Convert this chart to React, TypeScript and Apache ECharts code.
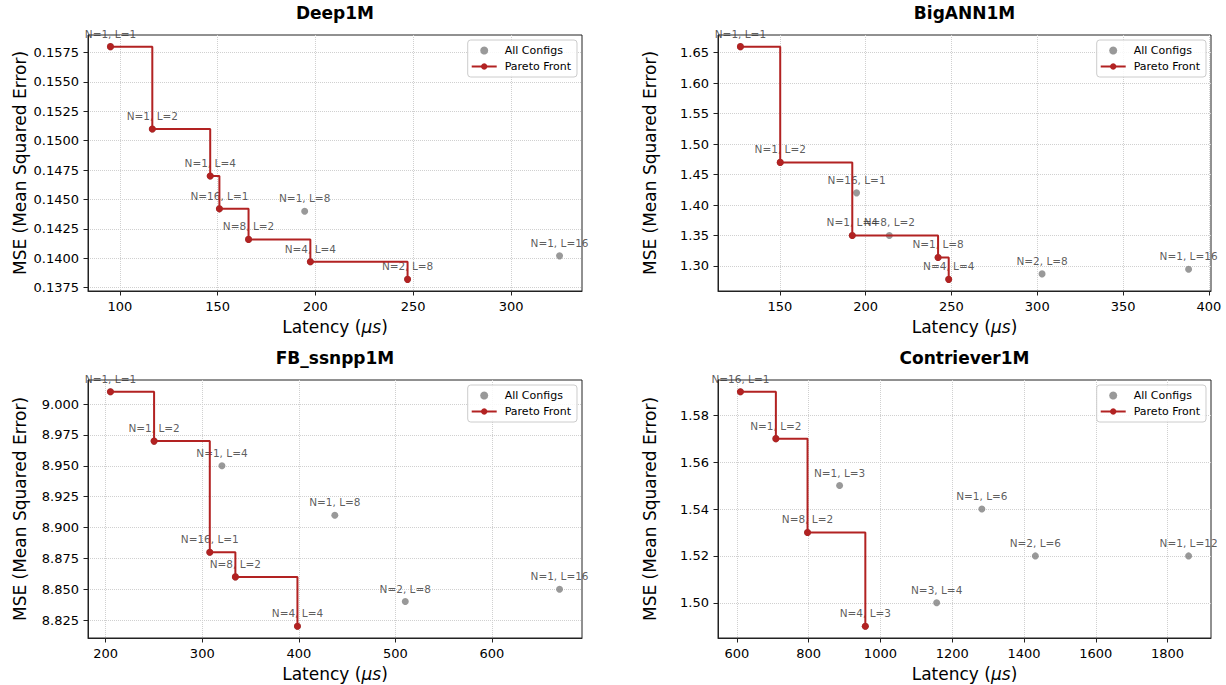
import React, { useEffect, useRef } from 'react';
import * as echarts from 'echarts';

const FONT = 'DejaVu Sans';

// ---------- Deep1M ----------
const deepLabels = ['N=1, L=1', 'N=1, L=2', 'N=1, L=4', 'N=16, L=1', 'N=8, L=2', 'N=1, L=8', 'N=4, L=4', 'N=2, L=8', 'N=1, L=16'];
const deepLatency = [95.2, 116.6, 146.2, 150.9, 165.8, 194.5, 197.4, 247.1, 324.8];
const deepMse = [0.158, 0.151, 0.147, 0.1442, 0.1416, 0.144, 0.1397, 0.1382, 0.1402];
const deepPareto = ['N=1, L=1', 'N=1, L=2', 'N=1, L=4', 'N=16, L=1', 'N=8, L=2', 'N=4, L=4', 'N=2, L=8'];
const deepXTicks = [100, 150, 200, 250, 300];
const deepYTicks = [0.1375, 0.14, 0.1425, 0.145, 0.1475, 0.15, 0.1525, 0.155, 0.1575];

// ---------- BigANN1M ----------
const bigannLabels = ['N=1, L=1', 'N=1, L=2', 'N=1, L=4', 'N=16, L=1', 'N=8, L=2', 'N=1, L=8', 'N=4, L=4', 'N=2, L=8', 'N=1, L=16'];
const bigannLatency = [127.0, 150.2, 192.2, 194.7, 213.8, 242.2, 248.4, 302.8, 388.2];
const bigannMse = [1.66, 1.47, 1.35, 1.42, 1.35, 1.314, 1.278, 1.287, 1.2946];
const bigannPareto = ['N=1, L=1', 'N=1, L=2', 'N=1, L=4', 'N=1, L=8', 'N=4, L=4'];
const bigannXTicks = [150, 200, 250, 300, 350, 400];
const bigannYTicks = [1.3, 1.35, 1.4, 1.45, 1.5, 1.55, 1.6, 1.65];

// ---------- FB_ssnpp1M ----------
const fbLabels = ['N=1, L=1', 'N=1, L=2', 'N=16, L=1', 'N=1, L=4', 'N=8, L=2', 'N=4, L=4', 'N=1, L=8', 'N=2, L=8', 'N=1, L=16'];
const fbLatency = [204.9, 250.1, 307.8, 320.4, 334.3, 398.6, 437.3, 510.3, 670.1];
const fbMse = [9.01, 8.97, 8.88, 8.95, 8.86, 8.82, 8.91, 8.84, 8.85];
const fbPareto = ['N=1, L=1', 'N=1, L=2', 'N=16, L=1', 'N=8, L=2', 'N=4, L=4'];
const fbXTicks = [200, 300, 400, 500, 600];
const fbYTicks = [8.825, 8.85, 8.875, 8.9, 8.925, 8.95, 8.975, 9.0];

// ---------- Contriever1M ----------
const contLabels = ['N=16, L=1', 'N=1, L=2', 'N=8, L=2', 'N=1, L=3', 'N=4, L=3', 'N=3, L=4', 'N=1, L=6', 'N=2, L=6', 'N=1, L=12'];
const contLatency = [610, 708.8, 797, 886.3, 958, 1156.7, 1282.6, 1431.6, 1858.5];
const contMse = [1.59, 1.57, 1.53, 1.55, 1.49, 1.5, 1.54, 1.52, 1.52];
const contPareto = ['N=16, L=1', 'N=1, L=2', 'N=8, L=2', 'N=4, L=3'];
const contXTicks = [600, 800, 1000, 1200, 1400, 1600, 1800];
const contYTicks = [1.5, 1.52, 1.54, 1.56, 1.58];

const panels = [
  { title: 'Deep1M', labels: deepLabels, lat: deepLatency, mse: deepMse, pareto: deepPareto, xt: deepXTicks, yt: deepYTicks, yDec: 4, left: 88, top: 35, width: 494, height: 256 },
  { title: 'BigANN1M', labels: bigannLabels, lat: bigannLatency, mse: bigannMse, pareto: bigannPareto, xt: bigannXTicks, yt: bigannYTicks, yDec: 2, left: 718, top: 35, width: 493, height: 256 },
  { title: 'FB_ssnpp1M', labels: fbLabels, lat: fbLatency, mse: fbMse, pareto: fbPareto, xt: fbXTicks, yt: fbYTicks, yDec: 3, left: 88, top: 380, width: 494, height: 258 },
  { title: 'Contriever1M', labels: contLabels, lat: contLatency, mse: contMse, pareto: contPareto, xt: contXTicks, yt: contYTicks, yDec: 2, left: 718, top: 380, width: 493, height: 258 },
];

function padExtent(values: number[]) {
  const lo = Math.min(...values);
  const hi = Math.max(...values);
  const m = (hi - lo) * 0.05;
  return [lo - m, hi + m];
}

const RED = '#b22222';
const GRAY = '#808080';
const FRAME = '#222222';

export default function App() {
  const ref = useRef<HTMLDivElement>(null);

  useEffect(() => {
    if (!ref.current) return;
    const chart = echarts.init(ref.current, undefined, { renderer: 'svg' });

    const grid: any[] = [];
    const xAxis: any[] = [];
    const yAxis: any[] = [];
    const series: any[] = [];
    const legend: any[] = [];
    const graphic: any[] = [];

    panels.forEach((p, i) => {
      const [xmin, xmax] = padExtent(p.lat);
      const [ymin, ymax] = padExtent(p.mse);
      grid.push({
        left: p.left, top: p.top, width: p.width, height: p.height,
        show: true, borderColor: FRAME, borderWidth: 1, backgroundColor: 'transparent',
      });
      xAxis.push({
        type: 'value', gridIndex: i, min: xmin, max: xmax,
        name: 'Latency ({i|μs})', nameLocation: 'middle', nameGap: 27,
        nameTextStyle: {
          fontSize: 17, color: '#000', fontFamily: FONT,
          rich: { i: { fontStyle: 'italic', fontSize: 17, color: '#000', fontFamily: FONT } },
        },
        axisLine: { show: true, lineStyle: { color: FRAME, width: 1 } },
        axisTick: { show: true, length: 4.5, lineStyle: { color: FRAME, width: 1 }, customValues: p.xt },
        axisLabel: { customValues: p.xt, margin: 9, fontSize: 13, color: '#000', fontFamily: FONT, formatter: (v: number) => String(Math.round(v)) },
        splitLine: { show: true, lineStyle: { color: '#d0d0d0', type: 'dotted', width: 1 } },
      });
      yAxis.push({
        type: 'value', gridIndex: i, min: ymin, max: ymax,
        name: 'MSE (Mean Squared Error)', nameLocation: 'middle', nameGap: 60,
        nameTextStyle: { fontSize: 17, color: '#000', fontFamily: FONT },
        axisLine: { show: true, lineStyle: { color: FRAME, width: 1 } },
        axisTick: { show: true, length: 4.5, lineStyle: { color: FRAME, width: 1 }, customValues: p.yt },
        axisLabel: { customValues: p.yt, margin: 9, fontSize: 13, color: '#000', fontFamily: FONT, formatter: (v: number) => v.toFixed(p.yDec) },
        splitLine: { show: true, lineStyle: { color: '#d0d0d0', type: 'dotted', width: 1 } },
      });
      series.push({
        type: 'scatter', name: 'All Configs', xAxisIndex: i, yAxisIndex: i,
        data: p.lat.map((x, j) => [x, p.mse[j], p.labels[j]]),
        symbol: 'circle', symbolSize: 7,
        itemStyle: { color: GRAY },
        label: {
          show: true, position: 'top', distance: 4,
          formatter: (d: any) => d.data[2],
          fontSize: 10.5, color: '#333', fontFamily: FONT,
        },
        z: 2,
      });
      const paretoData = p.lat
        .map((x, j) => [x, p.mse[j], p.labels[j]] as [number, number, string])
        .filter((d) => p.pareto.includes(d[2]))
        .sort((a, b) => a[0] - b[0]);
      series.push({
        type: 'line', name: 'Pareto Front', xAxisIndex: i, yAxisIndex: i,
        data: paretoData, step: 'end',
        symbol: 'circle', symbolSize: 7, showSymbol: true, showAllSymbol: true,
        lineStyle: { color: RED, width: 2 },
        itemStyle: { color: RED },
        label: { show: false },
        z: 3,
      });
      legend.push({
        data: ['All Configs', 'Pareto Front'],
        orient: 'vertical',
        right: 1226 - (p.left + p.width) + 5,
        top: p.top + 5,
        backgroundColor: 'rgba(255,255,255,0.85)',
        borderColor: '#cccccc', borderWidth: 1, borderRadius: 3,
        padding: [5, 6, 5, 3],
        itemWidth: 25, itemHeight: 8, itemGap: 5,
        selectedMode: false,
        textStyle: { fontSize: 11, color: '#000', fontFamily: FONT, padding: [0, 0, 0, 3] },
      });
      graphic.push({
        type: 'text',
        x: p.left + p.width / 2,
        y: p.top - 22,
        style: {
          text: p.title, fill: '#000', align: 'center', verticalAlign: 'middle',
          fontSize: 17, fontWeight: 'bold', fontFamily: FONT,
        },
      });
    });

    chart.setOption({
      animation: false,
      backgroundColor: '#ffffff',
      textStyle: { fontFamily: FONT },
      grid, xAxis, yAxis, series, legend, graphic,
    });

    return () => chart.dispose();
  }, []);

  return (
    <div
      ref={ref}
      style={{ position: 'absolute', left: 0, top: 0, width: 1226, height: 685 }}
    />
  );
}
